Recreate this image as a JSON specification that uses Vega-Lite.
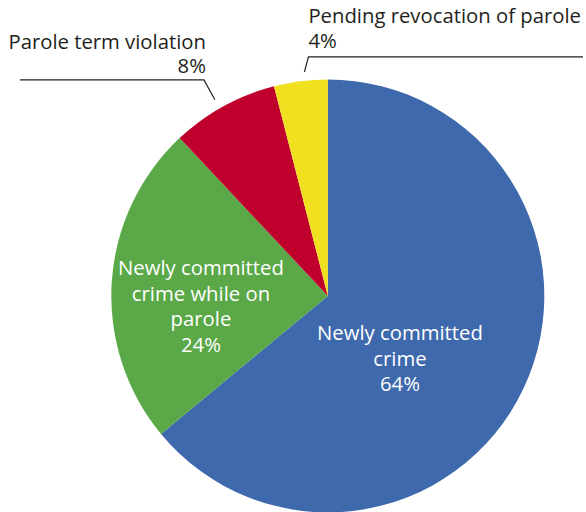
{
  "$schema": "https://vega.github.io/schema/vega-lite/v6.json",
  "width": 586,
  "height": 512,
  "autosize": {"type": "fit", "contains": "padding"},
  "padding": 0,
  "background": "white",
  "config": {"view": {"stroke": null}, "axis": {"disable": true}},
  "datasets": {
    "slices": [
      {"reason": "Newly committed crime", "share": 64, "k": 1},
      {"reason": "Newly committed crime while on parole", "share": 24, "k": 2},
      {"reason": "Parole term violation", "share": 8, "k": 3},
      {"reason": "Pending revocation of parole", "share": 4, "k": 4}
    ],
    "inner": [
      {"label": "Newly committed\ncrime\n64%", "x": 72.5, "y": -38.5},
      {"label": "Newly committed\ncrime while on\nparole\n24%", "x": -127.5, "y": 26.5}
    ],
    "outerLeft": [
      {"label": "Parole term violation\n8%", "x": -122.5, "y": 253.5}
    ],
    "outerRight": [
      {"label": "Pending revocation of parole\n4%", "x": -19.5, "y": 279.5}
    ],
    "leaders": [
      {"g": "violation", "i": 1, "x": -309.5, "y": 216.5},
      {"g": "violation", "i": 2, "x": -124.5, "y": 216.5},
      {"g": "violation", "i": 3, "x": -113.5, "y": 196.5},
      {"g": "pending", "i": 1, "x": 256.5, "y": 239.5},
      {"g": "pending", "i": 2, "x": -19.5, "y": 239.5},
      {"g": "pending", "i": 3, "x": -23.5, "y": 224.5}
    ]
  },
  "encoding": {
    "x": {"type": "quantitative", "scale": {"domain": [-329.5, 256.5], "nice": false, "zero": false}, "axis": null},
    "y": {"type": "quantitative", "scale": {"domain": [-215.5, 296.5], "nice": false, "zero": false}, "axis": null}
  },
  "layer": [
    {
      "data": {"name": "slices"},
      "mark": {"type": "arc", "outerRadius": 216.5},
      "encoding": {
        "x": {"datum": 0, "type": "quantitative"},
        "y": {"datum": 0, "type": "quantitative"},
        "theta": {"field": "share", "type": "quantitative", "stack": true},
        "order": {"field": "k", "type": "quantitative"},
        "color": {
          "field": "reason",
          "type": "nominal",
          "legend": null,
          "scale": {
            "domain": ["Newly committed crime", "Newly committed crime while on parole", "Parole term violation", "Pending revocation of parole"],
            "range": ["#3E69AD", "#5AA847", "#BF002D", "#F0E020"]
          }
        }
      }
    },
    {
      "data": {"name": "leaders"},
      "mark": {"type": "line", "color": "#231F20", "strokeWidth": 1.2},
      "encoding": {
        "x": {"field": "x"},
        "y": {"field": "y"},
        "detail": {"field": "g", "type": "nominal"},
        "order": {"field": "i", "type": "quantitative"}
      }
    },
    {
      "data": {"name": "inner"},
      "mark": {"type": "text", "color": "white", "font": "Open Sans", "fontSize": 20.3, "lineBreak": "\n", "lineHeight": 25.5, "align": "center", "baseline": "middle"},
      "encoding": {
        "x": {"field": "x"},
        "y": {"field": "y"},
        "text": {"field": "label"}
      }
    },
    {
      "data": {"name": "outerLeft"},
      "mark": {"type": "text", "color": "#231F20", "font": "Open Sans", "fontSize": 20.3, "lineBreak": "\n", "lineHeight": 24, "align": "right", "baseline": "middle"},
      "encoding": {
        "x": {"field": "x"},
        "y": {"field": "y"},
        "text": {"field": "label"}
      }
    },
    {
      "data": {"name": "outerRight"},
      "mark": {"type": "text", "color": "#231F20", "font": "Open Sans", "fontSize": 20.3, "lineBreak": "\n", "lineHeight": 25, "align": "left", "baseline": "middle"},
      "encoding": {
        "x": {"field": "x"},
        "y": {"field": "y"},
        "text": {"field": "label"}
      }
    }
  ]
}
